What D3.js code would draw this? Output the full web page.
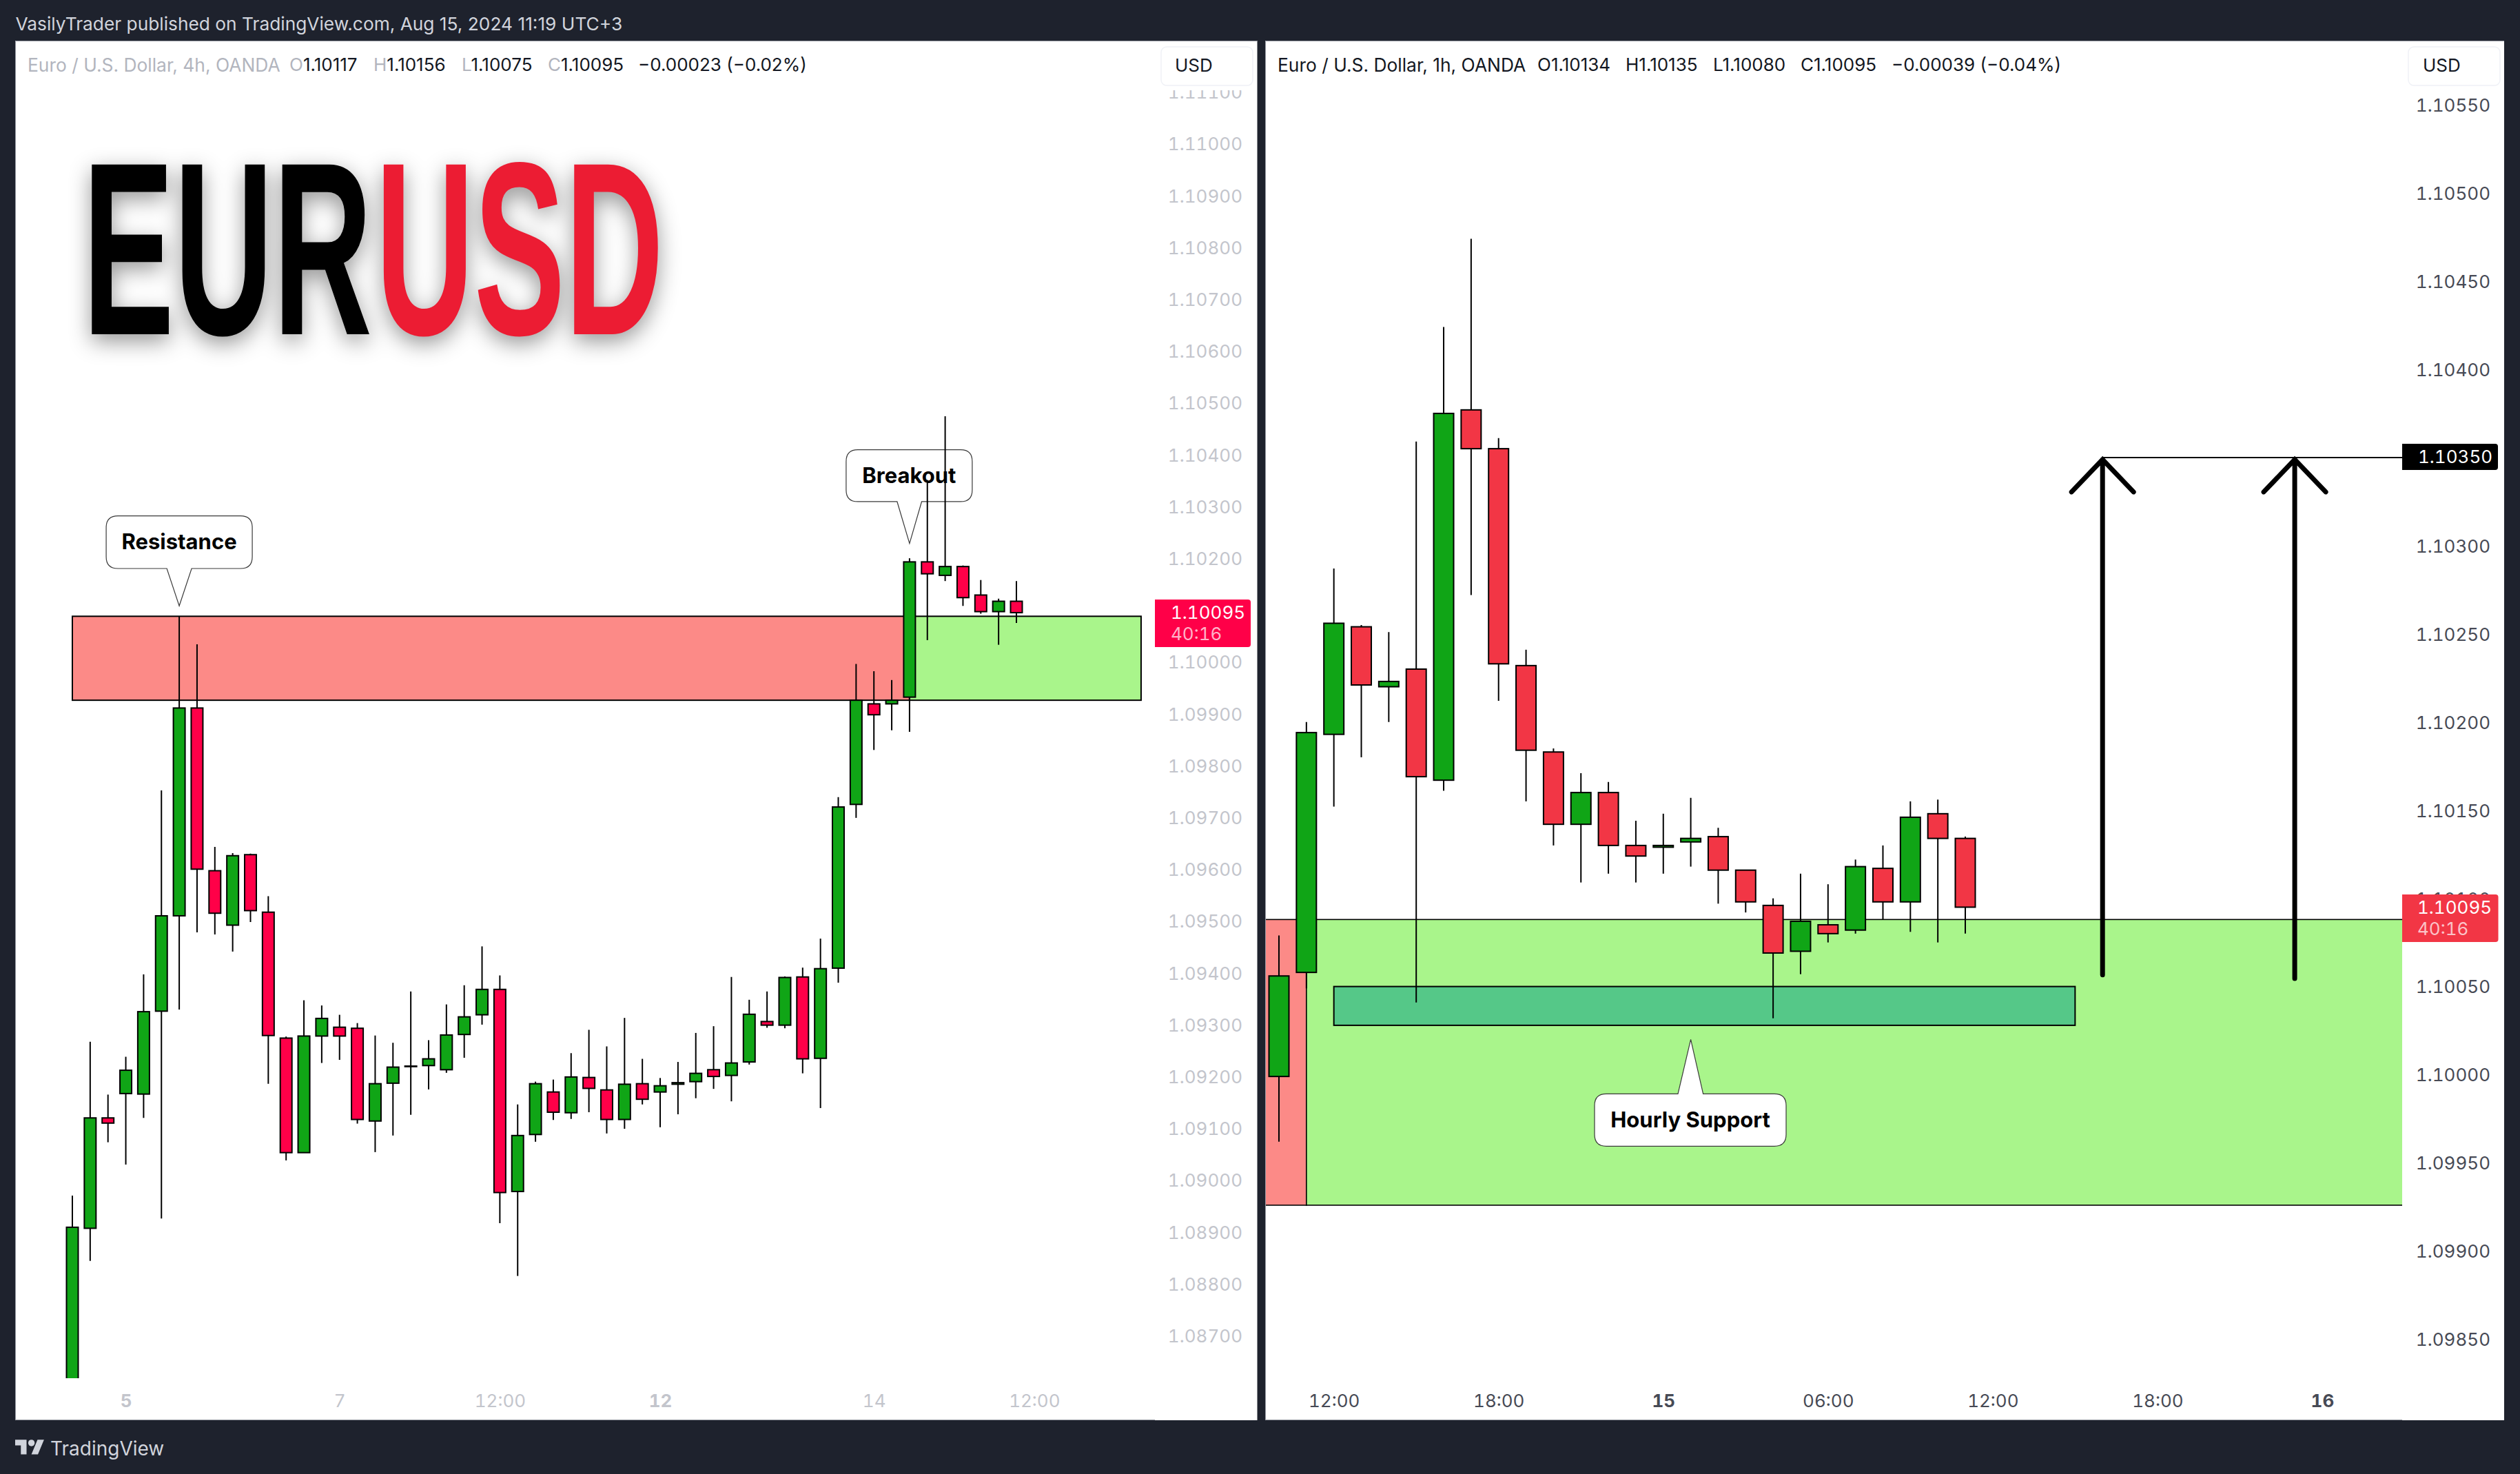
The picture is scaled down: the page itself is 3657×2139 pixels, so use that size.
<!DOCTYPE html>
<html>
<head>
<meta charset="utf-8">
<script src="https://cdn.jsdelivr.net/npm/d3@7"></script>
<style>
  html, body { margin: 0; padding: 0; background: #1e222d; }
  svg { display: block; }
  text { font-family: Inter, "Noto Sans", sans-serif; }
  .tick text { font-variant-numeric: tabular-nums; }
</style>
</head>
<body>
<svg id="chart" width="3657" height="2139"></svg>
<script>
// 4h pane
const leftOpen = [1.08500,1.08907,1.09120,1.09167,1.09166,1.09326,1.09510,1.09911,1.09597,1.09492,1.09628,1.09517,1.09274,1.09053,1.09278,1.09295,1.09293,1.09114,1.09187,1.09219,1.09221,1.09213,1.09281,1.09319,1.09368,1.08978,1.09088,1.09170,1.09130,1.09198,1.09174,1.09117,1.09186,1.09170,1.09185,1.09190,1.09213,1.09202,1.09228,1.09306,1.09299,1.09392,1.09235,1.09409,1.09725,1.09919,1.09919,1.09932,1.10193,1.10167,1.10184,1.10129,1.10097,1.10117];
const leftHigh = [1.08970,1.09267,1.09165,1.09238,1.09397,1.09752,1.10087,1.10034,1.09643,1.09631,1.09630,1.09548,1.09277,1.09347,1.09337,1.09319,1.09303,1.09279,1.09265,1.09364,1.09270,1.09339,1.09376,1.09451,1.09395,1.09146,1.09190,1.09194,1.09245,1.09290,1.09258,1.09313,1.09234,1.09197,1.09228,1.09284,1.09297,1.09392,1.09348,1.09364,1.09393,1.09410,1.09466,1.09739,1.09996,1.09982,1.09965,1.10200,1.10351,1.10474,1.10186,1.10158,1.10122,1.10156];
const leftLow = [1.08480,1.08844,1.09073,1.09030,1.09120,1.08926,1.09329,1.09478,1.09474,1.09441,1.09498,1.09186,1.09038,1.09053,1.09226,1.09232,1.09109,1.09054,1.09086,1.09126,1.09175,1.09207,1.09236,1.09300,1.08917,1.08815,1.09074,1.09116,1.09118,1.09131,1.09090,1.09099,1.09146,1.09102,1.09127,1.09158,1.09176,1.09152,1.09223,1.09294,1.09293,1.09206,1.09139,1.09381,1.09699,1.09830,1.09868,1.09865,1.10042,1.10156,1.10108,1.10093,1.10033,1.10075];
const leftClose = [1.08909,1.09120,1.09110,1.09212,1.09325,1.09510,1.09911,1.09600,1.09515,1.09626,1.09520,1.09279,1.09053,1.09278,1.09312,1.09278,1.09117,1.09186,1.09218,1.09220,1.09234,1.09280,1.09315,1.09368,1.08976,1.09086,1.09186,1.09131,1.09199,1.09177,1.09117,1.09185,1.09156,1.09182,1.09188,1.09206,1.09200,1.09226,1.09320,1.09299,1.09391,1.09234,1.09408,1.09720,1.09926,1.09898,1.09926,1.10193,1.10170,1.10184,1.10124,1.10097,1.10117,1.10095];

// 1h pane
const rightOpen = [1.09999,1.10058,1.10193,1.10254,1.10220,1.10230,1.10167,1.10377,1.10355,1.10232,1.10183,1.10142,1.10160,1.10130,1.10129,1.10132,1.10135,1.10116,1.10096,1.10070,1.10085,1.10082,1.10117,1.10098,1.10148,1.10134];
const rightHigh = [1.10079,1.10200,1.10287,1.10255,1.10251,1.10359,1.10424,1.10474,1.10361,1.10241,1.10185,1.10171,1.10166,1.10144,1.10148,1.10157,1.10140,1.10116,1.10100,1.10114,1.10108,1.10122,1.10130,1.10155,1.10156,1.10135];
const rightLow = [1.09962,1.10049,1.10152,1.10180,1.10200,1.10041,1.10161,1.10272,1.10212,1.10155,1.10130,1.10109,1.10114,1.10109,1.10114,1.10118,1.10097,1.10092,1.10032,1.10057,1.10075,1.10080,1.10088,1.10081,1.10075,1.10080];
const rightClose = [1.10056,1.10194,1.10256,1.10221,1.10223,1.10169,1.10375,1.10355,1.10233,1.10184,1.10142,1.10160,1.10130,1.10124,1.10130,1.10134,1.10116,1.10098,1.10069,1.10087,1.10080,1.10118,1.10098,1.10146,1.10134,1.10095];

const leftPriceTicks = [1.111,1.110,1.109,1.108,1.107,1.106,1.105,1.104,1.103,1.102,1.101,1.100,1.099,1.098,1.097,1.096,1.095,1.094,1.093,1.092,1.091,1.090,1.089,1.088,1.087];
const rightPriceTicks = [1.1055,1.105,1.1045,1.104,1.1035,1.103,1.1025,1.102,1.1015,1.101,1.1005,1.100,1.0995,1.099,1.0985];
const leftTimeIdx = [3,15,24,33,45,54];
const leftTimeLabels = ["5","7","12:00","12","14","12:00"];
const leftTimeBold = ["5","12"];
const rightTimeIdx = [2,8,14,20,26,32,38];
const rightTimeLabels = ["12:00","18:00","15","06:00","12:00","18:00","16"];
const rightTimeBold = ["15","16"];

const zoneTop = 1.10088, zoneBottom = 1.09926;
const lastPrice = 1.10095, targetPrice = 1.1035;

const GREEN = "#10a516", RED_L = "#ff0048", RED_R = "#f23645";
const ZONE_RED = "#fc8a87", ZONE_GREEN = "#a9f58b", SUPPORT = "#55c888";

const svg = d3.select("#chart");

svg.append("rect").attr("width", 3657).attr("height", 2139).attr("fill", "#1e222d");

// panes
const panes = [
  { id: "l", x0: 22, x1: 1824.5, plotX1: 1676 },
  { id: "r", x0: 1836, x1: 3634, plotX1: 3486 }
];
panes.forEach(p => {
  svg.append("rect").attr("x", p.x0).attr("y", 59).attr("width", p.x1 - p.x0).attr("height", 2002)
    .attr("fill", "#fff");
  svg.append("path")
    .attr("d", `M${p.x0 + 0.5},2060.5V59.5H${p.x1}M${p.x0},2060.5H${p.plotX1}`)
    .attr("fill", "none").attr("stroke", "#9598a1").attr("stroke-width", 1);
  svg.append("clipPath").attr("id", "clip-" + p.id).append("rect")
    .attr("x", p.x0 + 1).attr("y", 60).attr("width", p.plotX1 - p.x0 - 1).attr("height", 1940);
});

const xL = d3.scaleLinear().domain([0, 53]).range([105, 1475]);
const yL = d3.scaleLinear().domain([1.105, 1.091]).range([584.5, 1637.3]);
const xR = d3.scaleLinear().domain([0, 25]).range([1856, 2852]);
const yR = d3.scaleLinear().domain([1.1015, 1.0985]).range([1175.7, 1943.4]);

function drawAxes(x, y, priceTicks, timeIdx, timeLabels, boldLabels, color, priceX) {
  const ax = svg.append("g").attr("transform", `translate(${priceX},0)`)
    .call(d3.axisLeft(y).tickValues(priceTicks).tickFormat(d3.format(".5f")).tickSize(0).tickPadding(0));
  ax.select(".domain").remove();
  ax.selectAll("text").attr("font-size", 26).attr("fill", color).attr("dy", "0.36em")
    .style("font-family", "Inter").attr("text-anchor", "end");

  const bx = svg.append("g").attr("transform", "translate(0,2042)")
    .call(d3.axisBottom(x).tickValues(timeIdx).tickFormat((d, i) => timeLabels[i]).tickSize(0).tickPadding(0));
  bx.select(".domain").remove();
  bx.selectAll("text").attr("font-size", 26).attr("fill", color).attr("dy", 0)
    .style("font-family", "Inter")
    .attr("font-weight", (d, i) => boldLabels.includes(timeLabels[i]) ? 700 : 400);
}

drawAxes(xL, yL, leftPriceTicks, leftTimeIdx, leftTimeLabels, leftTimeBold, "#c3c5cc", 1803);
drawAxes(xR, yR, rightPriceTicks, rightTimeIdx, rightTimeLabels, rightTimeBold, "#474a55", 3614);

function drawCandles(g, x, y, o, h, l, c, upColor, downColor, bodyW) {
  const rows = o.map((d, i) => ({ i, o: d, h: h[i], l: l[i], c: c[i] }));
  g.selectAll(".wick").data(rows).enter().append("line")
    .attr("class", "wick")
    .attr("x1", d => x(d.i)).attr("x2", d => x(d.i))
    .attr("y1", d => y(d.h)).attr("y2", d => y(d.l))
    .attr("stroke", "#000").attr("stroke-width", 2);
  g.selectAll(".body").data(rows).enter().append("rect")
    .attr("class", "body")
    .attr("x", d => x(d.i) - bodyW / 2)
    .attr("width", bodyW)
    .attr("y", d => y(Math.max(d.o, d.c)))
    .attr("height", d => Math.abs(y(d.o) - y(d.c)))
    .attr("fill", d => d.c >= d.o ? upColor : downColor)
    .attr("stroke", "#000").attr("stroke-width", 2);
}

function zone(g, x, y, i0, i1, top, bottom, fill, sw) {
  g.append("rect")
    .attr("x", x(i0)).attr("width", x(i1) - x(i0))
    .attr("y", y(top)).attr("height", y(bottom) - y(top))
    .attr("fill", fill).attr("stroke", "#000").attr("stroke-width", sw);
}

// speech bubble with its tip on a point of the chart
function callout(g, tx, ty, left, right, top, bottom, baseL, baseR, label) {
  const r = 17, pointUp = top > 0;
  const X0 = tx + left, X1 = tx + right, Y0 = ty + top, Y1 = ty + bottom;
  let d = `M${X0 + r},${Y0}`;
  if (pointUp) d += `L${tx + baseL},${Y0}L${tx},${ty}L${tx + baseR},${Y0}`;
  d += `L${X1 - r},${Y0}Q${X1},${Y0} ${X1},${Y0 + r}L${X1},${Y1 - r}Q${X1},${Y1} ${X1 - r},${Y1}`;
  if (!pointUp) d += `L${tx + baseR},${Y1}L${tx},${ty}L${tx + baseL},${Y1}`;
  d += `L${X0 + r},${Y1}Q${X0},${Y1} ${X0},${Y1 - r}L${X0},${Y0 + r}Q${X0},${Y0} ${X0 + r},${Y0}Z`;
  g.append("path").attr("d", d).attr("fill", "#fff").attr("stroke", "#3a3a3a").attr("stroke-width", 1.2);
  g.append("text").attr("x", (X0 + X1) / 2).attr("y", (Y0 + Y1) / 2).attr("dy", "0.33em")
    .attr("text-anchor", "middle").attr("font-size", 31).attr("font-weight", 700).attr("fill", "#000")
    .text(label);
}

// left pane
const gL = svg.append("g").attr("clip-path", "url(#clip-l)");
zone(gL, xL, yL, 0, 47, zoneTop, zoneBottom, ZONE_RED, 2);
zone(gL, xL, yL, 47, 60, zoneTop, zoneBottom, ZONE_GREEN, 2);
callout(gL, xL(6), yL(1.10108), -106, 106, -130.6, -54.3, -18, 18, "Resistance");
callout(gL, xL(47), yL(1.102285), -92, 91, -136, -60.7, -18, 17.6, "Breakout");
drawCandles(gL, xL, yL, leftOpen, leftHigh, leftLow, leftClose, GREEN, RED_L, 17);

// right pane
const gR = svg.append("g").attr("clip-path", "url(#clip-r)");
zone(gR, xR, yR, -2, 1, zoneTop, zoneBottom, ZONE_RED, 1.6);
zone(gR, xR, yR, 1, 60, zoneTop, zoneBottom, ZONE_GREEN, 1.6);
zone(gR, xR, yR, 2, 29, 1.1005, 1.10028, SUPPORT, 2);
callout(gR, xR(15), yR(1.1002), -139.6, 138.4, 79, 155, -18.6, 18, "Hourly Support");
drawCandles(gR, xR, yR, rightOpen, rightHigh, rightLow, rightClose, GREEN, RED_R, 29);

// target level and arrows
gR.append("line").attr("x1", xR(30)).attr("x2", 3486).attr("y1", yR(targetPrice)).attr("y2", yR(targetPrice))
  .attr("stroke", "#000").attr("stroke-width", 2);
[[30, 1.100566], [37, 1.100545]].forEach(([i, low]) => {
  const ax = xR(i), ay = yR(targetPrice) + 3;
  gR.append("path")
    .attr("d", `M${ax},${yR(low)}L${ax},${ay}M${ax - 45},${ay + 47}L${ax},${ay}L${ax + 45},${ay + 47}`)
    .attr("fill", "none").attr("stroke", "#000").attr("stroke-width", 7)
    .attr("stroke-linecap", "round").attr("stroke-linejoin", "miter");
});

// price tags
function tag(x0, x1, y0, y1, fill, lines) {
  const r = 4;
  svg.append("path")
    .attr("d", `M${x0},${y0}H${x1 - r}Q${x1},${y0} ${x1},${y0 + r}V${y1 - r}Q${x1},${y1} ${x1 - r},${y1}H${x0}Z`)
    .attr("fill", fill);
  lines.forEach(t => {
    svg.append("text").attr("x", t.x).attr("y", t.y).attr("dy", "0.36em")
      .attr("font-size", 26).attr("fill", t.fill).style("font-variant-numeric", "tabular-nums").text(t.s);
  });
}
const fmt = d3.format(".5f");
tag(1676, 1815, 870, 939, RED_L, [
  { x: 1699, y: 889, fill: "#fff", s: fmt(lastPrice) },
  { x: 1699, y: 920, fill: "#ffb3c8", s: "40:16" }
]);
tag(3486, 3625.5, 1298, 1367, RED_R, [
  { x: 3508, y: 1317, fill: "#fff", s: fmt(lastPrice) },
  { x: 3508, y: 1348, fill: "#fbc2c7", s: "40:16" }
]);
tag(3486, 3625, 644, 682, "#000", [
  { x: 3509, y: 663, fill: "#fff", s: fmt(targetPrice) }
]);

// USD boxes, the left one cuts off the top price label
svg.append("rect").attr("x", 1680).attr("y", 60).attr("width", 144).attr("height", 71).attr("fill", "#fff");
[[1685, 1705], [3495, 3516]].forEach(([bx, tx]) => {
  svg.append("rect").attr("x", bx).attr("y", 68).attr("width", 133).attr("height", 56).attr("rx", 8)
    .attr("fill", "#fff").attr("stroke", "#eff1f6").attr("stroke-width", 1.5);
  svg.append("text").attr("x", tx).attr("y", 95).attr("dy", "0.36em")
    .attr("font-size", 26).attr("fill", "#131722").text("USD");
});

// header line and legends
svg.append("text").attr("x", 22.5).attr("y", 35).attr("dy", "0.36em")
  .attr("font-size", 26.3).attr("fill", "#d1d4dc")
  .text("VasilyTrader published on TradingView.com, Aug 15, 2024 11:19 UTC+3");

function legend(parts, faded, dark) {
  parts.forEach(p => {
    svg.append("text").attr("x", p.x).attr("y", 94).attr("dy", "0.36em")
      .attr("font-size", p.title ? 26.4 : 26)
      .selectAll("tspan").data(p.s).enter().append("tspan")
      .attr("fill", (d, i) => p.s.length === 2 && i === 0 ? faded : (p.title ? faded : dark))
      .text(d => d);
  });
}
legend([
  { x: 40, s: ["Euro / U.S. Dollar, 4h, OANDA"], title: true },
  { x: 420, s: ["O", "1.10117"] },
  { x: 542, s: ["H", "1.10156"] },
  { x: 670, s: ["L", "1.10075"] },
  { x: 795, s: ["C", "1.10095"] },
  { x: 926, s: ["\u22120.00023 (\u22120.02%)"] }
], "#b2b5be", "#131722");
legend([
  { x: 1854, s: ["Euro / U.S. Dollar, 1h, OANDA"], title: true },
  { x: 2231, s: ["O", "1.10134"] },
  { x: 2359, s: ["H", "1.10135"] },
  { x: 2486, s: ["L", "1.10080"] },
  { x: 2613, s: ["C", "1.10095"] },
  { x: 2745, s: ["\u22120.00039 (\u22120.04%)"] }
], "#131722", "#131722");

// EURUSD logo
const logo = svg.append("g").style("filter", "drop-shadow(0px 10px 16px rgba(0,0,0,0.42))");
[["EUR", 120, 420, "#000"], ["USD", 545, 418, "#ec1c33"]].forEach(([s, x, w, fill]) => {
  logo.append("text").attr("x", x).attr("y", 485)
    .attr("font-size", 358).attr("font-weight", 700).attr("fill", fill)
    .style("font-family", "'Liberation Sans Narrow', 'Liberation Sans', sans-serif")
    .attr("textLength", w).attr("lengthAdjust", "spacingAndGlyphs")
    .text(s);
});

// footer
svg.append("path")
  .attr("transform", "translate(22,2084.5) scale(1.18)")
  .attr("d", "M14 22H7V11H0V4h14v18zM28 22h-8l7.5-18h8L28 22z")
  .attr("fill", "#d1d4dc");
svg.append("circle").attr("cx", 22 + 20 * 1.18).attr("cy", 2084.5 + 8 * 1.18).attr("r", 4 * 1.18).attr("fill", "#d1d4dc");
svg.append("text").attr("x", 73).attr("y", 2101.5).attr("dy", "0.36em")
  .attr("font-size", 28).attr("font-weight", 400).attr("fill", "#d1d4dc").text("TradingView");
</script>
</body>
</html>
